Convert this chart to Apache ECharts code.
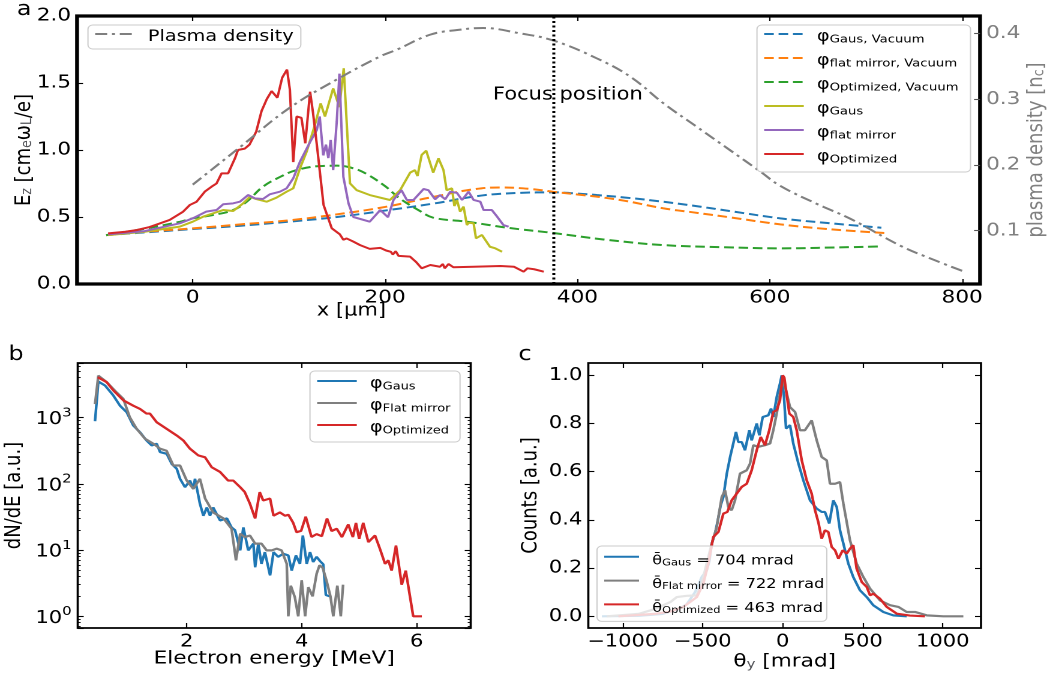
<!DOCTYPE html>
<html>
<head>
<meta charset="utf-8">
<script src="https://cdn.jsdelivr.net/npm/echarts@6.0.0/dist/echarts.min.js"></script>
<style>
  html, body { margin: 0; padding: 0; background: #fff; overflow: hidden; }
  /* the figure is laid out 875 px wide and widened to 1050 px */
  #chart { width: 875px; height: 677px; transform: scaleX(1.2); transform-origin: 0 0; }
</style>
</head>
<body>
<div id="chart"></div>
<script>
const FONT = 'DejaVu Sans';

// ---------- panel a: longitudinal field E_z along x, plasma density profile ----------
const aXTicks = [0, 200, 400, 600, 800];
const densityTicks = [0.1, 0.2, 0.3, 0.4];
const focusX = 375;
const focusLabelAt = [390, 1.41];

const gausVacuum = [[-90,0.365],[-50,0.385],[0,0.41],[50,0.435],[100,0.465],[150,0.50],[200,0.548],[250,0.60],[300,0.66],[340,0.68],[375,0.684],[400,0.675],[420,0.664],[450,0.645],[489,0.614],[520,0.585],[558,0.545],[611,0.49],[660,0.455],[716,0.42]];
const flatVacuum = [[-90,0.365],[-50,0.39],[0,0.415],[50,0.445],[100,0.475],[150,0.52],[200,0.575],[250,0.65],[300,0.714],[320,0.72],[350,0.71],[375,0.688],[400,0.668],[420,0.652],[450,0.62],[489,0.565],[520,0.535],[558,0.498],[611,0.445],[660,0.41],[720,0.38]];
const optVacuum = [[-90,0.365],[-48,0.415],[-13,0.465],[0,0.49],[21,0.515],[42,0.552],[56,0.614],[73,0.726],[91,0.80],[108,0.85],[132,0.88],[150,0.883],[167,0.863],[181,0.82],[200,0.73],[215,0.64],[235,0.55],[250,0.495],[285,0.465],[327,0.42],[372,0.383],[430,0.33],[490,0.29],[550,0.275],[611,0.266],[650,0.27],[715,0.28]];

const gausPlasma = [[-88,0.365],[-50,0.39],[-13.5,0.428],[0,0.465],[10.7,0.502],[21,0.527],[31.6,0.552],[42,0.545],[52.4,0.602],[59.4,0.651],[66,0.634],[76.8,0.614],[87,0.644],[97.6,0.689],[104.5,0.714],[111.5,0.863],[118.4,0.987],[127,1.187],[133,1.348],[137.5,1.25],[146,1.46],[152.4,1.32],[157,1.61],[163.5,0.751],[170.5,0.70],[184,0.664],[205,0.627],[215.6,0.70],[226,0.831],[231,0.85],[233.7,0.806],[238,0.963],[242.7,0.995],[250,0.831],[255.5,0.938],[260.7,0.85],[264,0.70],[269.5,0.714],[272,0.582],[274.7,0.627],[278,0.54],[281.6,0.577],[285,0.44],[287,0.457],[292,0.453],[294.5,0.341],[300.7,0.366],[309,0.278],[314.6,0.266],[321.6,0.241]];
const flatPlasma = [[-88,0.37],[-50,0.395],[-13.5,0.453],[0,0.49],[14,0.54],[24.7,0.552],[31.6,0.595],[42,0.602],[49,0.614],[57.6,0.664],[64.6,0.639],[73,0.634],[80,0.669],[90.6,0.689],[97.6,0.714],[104.5,0.789],[111.5,0.913],[122,1.06],[129,1.15],[132,1.25],[135.7,0.96],[138.5,1.04],[141,0.94],[143.4,1.075],[146,0.85],[149.7,1.21],[152.5,1.57],[156.6,0.80],[162,0.60],[167,0.50],[184,0.465],[195,0.552],[203,0.498],[208.7,0.627],[217,0.70],[222.6,0.627],[229.5,0.627],[240,0.709],[245,0.70],[252,0.632],[257,0.664],[262.5,0.632],[267.7,0.689],[274.7,0.68],[280,0.627],[286.8,0.689],[292,0.627],[299,0.614],[302.4,0.552],[311,0.552],[316,0.507],[323,0.44],[328.4,0.428]];
const optPlasma = [[-88,0.378],[-70,0.39],[-58,0.403],[-45,0.425],[-35,0.45],[-24,0.478],[-10,0.54],[-3,0.59],[4,0.614],[12.5,0.689],[19.5,0.726],[24.7,0.75],[30,0.826],[36.8,0.826],[44,0.94],[47,1.0],[54,1.01],[59,1.04],[66,1.137],[71.5,1.29],[77,1.38],[82,1.44],[88,1.39],[93,1.54],[98,1.6],[101,1.45],[104.5,0.91],[108,1.25],[113,1.24],[117,1.05],[122,1.435],[125,1.28],[129,1.04],[136,0.59],[144.5,0.416],[153,0.37],[156.6,0.33],[160,0.34],[167,0.316],[174,0.29],[184,0.262],[195,0.27],[201,0.25],[206,0.24],[208,0.22],[211,0.245],[214,0.21],[226,0.204],[232,0.166],[238,0.117],[247,0.142],[257,0.129],[260,0.149],[262,0.117],[266,0.149],[271,0.125],[292,0.129],[320,0.134],[334,0.129],[344,0.092],[348,0.117],[355,0.11],[365,0.092]];

const plasmaDensity = [[0,0.170],[50,0.228],[100,0.286],[150,0.33],[195,0.365],[212,0.375],[247,0.398],[275,0.405],[302,0.408],[340,0.40],[375,0.389],[420,0.362],[455,0.334],[490,0.293],[524,0.258],[559,0.222],[590,0.19],[611,0.168],[650,0.14],[684,0.118],[736,0.077],[770,0.056],[800,0.039]];

// ---------- panel b: electron energy spectra ----------
const bXTicks = [2, 4, 6];
const specGaus = [[0.405,883],[0.463,3500],[0.579,3050],[0.724,2150],[0.84,1510],[0.957,1200],[1.07,760],[1.188,600],[1.30,452],[1.39,380],[1.478,403],[1.536,302],[1.652,284],[1.739,200],[1.826,169],[1.884,119],[1.97,89],[2.057,112],[2.115,84],[2.144,119],[2.23,50],[2.29,33],[2.35,44],[2.405,33],[2.46,44],[2.58,28],[2.70,30],[2.78,22],[2.84,20],[2.93,9.9],[2.985,22],[3.07,9.9],[3.16,12.5],[3.19,5.5],[3.245,12.5],[3.30,6.2],[3.36,9.3],[3.45,4.15],[3.51,9.3],[3.59,7.9],[3.68,8.8],[3.767,8.3],[3.826,4.9],[3.90,8.3],[3.97,6.2],[4.02,16.6],[4.087,6.2],[4.145,9.3],[4.20,6.6],[4.26,7.9],[4.32,6.8],[4.375,6.1],[4.42,2.1],[4.49,2.0]];
const specFlat = [[0.405,1600],[0.463,4300],[0.61,3420],[0.78,2400],[0.897,1920],[1.01,1010],[1.13,676],[1.275,479],[1.42,403],[1.536,339],[1.65,316],[1.767,189],[1.884,189],[2.0,112],[2.115,84],[2.23,119],[2.32,60],[2.46,37],[2.64,30],[2.78,21],[2.857,7],[2.93,17.7],[3.01,15.7],[3.10,16.6],[3.19,12.5],[3.30,12.5],[3.39,9.9],[3.48,9.9],[3.565,10.5],[3.65,9.9],[3.74,6.2],[3.767,1],[3.81,2.9],[3.88,1.95],[3.94,1],[4.0,3.5],[4.06,1],[4.115,2.75],[4.19,2.0],[4.26,4.4],[4.31,5.9],[4.365,5.4],[4.43,3.5],[4.50,2.0],[4.55,1],[4.62,2.9],[4.68,1],[4.72,3.0]];
const specOpt = [[0.452,4070],[0.609,3420],[0.724,2570],[0.897,1820],[1.07,1510],[1.188,1350],[1.30,1150],[1.36,1150],[1.478,851],[1.652,676],[1.826,537],[1.94,452],[2.057,339],[2.20,269],[2.32,251],[2.435,178],[2.58,151],[2.72,112],[2.81,112],[2.93,89],[3.01,75],[3.10,50],[3.19,30],[3.27,75],[3.33,56],[3.45,60],[3.51,33],[3.62,37],[3.71,33],[3.77,34],[3.85,26],[3.91,18.6],[3.99,19.5],[4.07,32],[4.17,15.8],[4.26,17.4],[4.35,16.2],[4.44,30],[4.52,19.4],[4.61,21],[4.70,15.7],[4.81,24.4],[4.89,15.7],[4.944,25.7],[5.0,14.8],[5.07,25.7],[5.16,13.2],[5.2,12.5],[5.275,16.6],[5.36,10.5],[5.45,6.2],[5.506,7.0],[5.565,4.9],[5.64,11.7],[5.74,3.0],[5.81,4.9],[5.94,1],[6.09,1]];

// ---------- panel c: angular distributions ----------
const cXTicks = [-1000, -500, 0, 500, 1000];
const cYTicks = [0, 0.2, 0.4, 0.6, 0.8, 1.0];
const meanTheta = { gaus: 704, flat: 722, opt: 463 };
const angGaus = [[-1130,0],[-900,0.002],[-750,0.01],[-650,0.03],[-600,0.05],[-548,0.1],[-506,0.163],[-475,0.19],[-458,0.23],[-444,0.30],[-423,0.343],[-402,0.41],[-388,0.46],[-371,0.495],[-350,0.59],[-329,0.66],[-309,0.717],[-292,0.765],[-277.5,0.723],[-256,0.723],[-235.6,0.689],[-208.5,0.772],[-194,0.73],[-162.5,0.80],[-146,0.751],[-125,0.827],[-90,0.834],[-73,0.862],[-58.7,0.827],[-37.5,0.91],[-17,0.966],[-6,1.0],[8,0.91],[20.8,0.779],[45.6,0.793],[66,0.717],[98,0.634],[129,0.564],[170.6,0.481],[212.5,0.447],[243.5,0.433],[264,0.433],[291,0.385],[316,0.481],[337.5,0.454],[358,0.357],[379,0.302],[410,0.219],[441,0.163],[483,0.108],[525,0.08],[566,0.046],[629,0.018],[691,0.004],[775,0]];
const angFlat = [[-1100,0],[-900,0.01],[-800,0.03],[-700,0.06],[-662,0.08],[-600,0.085],[-537,0.087],[-506,0.136],[-475,0.219],[-444,0.30],[-412.5,0.37],[-381,0.495],[-360.6,0.523],[-340,0.454],[-319,0.44],[-298,0.481],[-267,0.592],[-225,0.606],[-204,0.634],[-183.7,0.71],[-152.5,0.703],[-110.6,0.71],[-79,0.717],[-58.7,0.772],[-37.5,0.841],[-17,0.924],[0,0.98],[20.6,0.938],[45.6,0.868],[77,0.848],[108,0.772],[139,0.772],[181,0.813],[212.5,0.73],[243.5,0.661],[275,0.647],[295.6,0.55],[327,0.55],[358,0.557],[379,0.468],[420.6,0.315],[462,0.219],[504,0.163],[546,0.115],[608,0.066],[671,0.046],[723,0.039],[775,0.018],[827,0.018],[900,0.004],[1004,0],[1129,0]];
const angOpt = [[-1027,0],[-800,0.01],[-700,0.02],[-621,0.039],[-537,0.08],[-496,0.136],[-465,0.219],[-434,0.329],[-402,0.35],[-371,0.426],[-346,0.433],[-319,0.481],[-287.5,0.509],[-256,0.537],[-225,0.55],[-194,0.606],[-162.5,0.689],[-137.5,0.744],[-110.6,0.71],[-84,0.772],[-58.7,0.848],[-37.5,0.855],[-17,0.896],[0,1.0],[10,0.99],[20.6,0.986],[41.5,0.841],[66,0.827],[87.5,0.772],[119,0.647],[150,0.564],[181,0.509],[202,0.44],[222.5,0.391],[243.5,0.322],[264,0.357],[285,0.35],[306,0.288],[327,0.274],[348,0.239],[375,0.274],[400,0.26],[421,0.281],[441,0.295],[462,0.198],[494,0.142],[525,0.122],[546,0.087],[566,0.094],[608,0.073],[650,0.039],[712.5,0.011],[795,0.003],[889,0]];

// ---------- colours ----------
const C = { blue: '#1f77b4', orange: '#ff7f0e', green: '#2ca02c', red: '#d62728', purple: '#9467bd', olive: '#bcbd22', gray: '#7f7f7f' };

// ---------- shared styles ----------
const sub = (size, lh) => ({ fontFamily: FONT, fontSize: size, lineHeight: lh || 14, verticalAlign: 'bottom' });
const main = (size, color, lh) => ({ fontFamily: FONT, fontSize: size, lineHeight: lh || 22, verticalAlign: 'bottom', color: color || '#000' });

function ticks(values, len) {
  const t = { show: true, inside: true, length: len || 5, lineStyle: { color: '#000', width: 1.1 } };
  if (values) t.customValues = values;
  return t;
}
function labels(values, fmt, size) {
  const l = { show: true, color: '#000', fontFamily: FONT, fontSize: size || 17.5, margin: 5 };
  if (values) l.customValues = values;
  if (fmt) l.formatter = fmt;
  return l;
}
// axes sit on the frame edges, never on the zero line of the other axis
const noLine = { show: false, onZero: false };
const noSplit = { show: false };

const legendLabels = {
  'Plasma density': '{m|Plasma density}',
  'Gaus, Vacuum': '{m|φ}{s|Gaus, Vacuum}',
  'flat mirror, Vacuum': '{m|φ}{s|flat mirror, Vacuum}',
  'Optimized, Vacuum': '{m|φ}{s|Optimized, Vacuum}',
  'Gaus': '{m|φ}{s|Gaus}',
  'flat mirror': '{m|φ}{s|flat mirror}',
  'Optimized': '{m|φ}{s|Optimized}',
  'Gaus spectrum': '{m|φ}{s|Gaus}',
  'Flat mirror spectrum': '{m|φ}{s|Flat mirror}',
  'Optimized spectrum': '{m|φ}{s|Optimized}',
  'Gaus angle': '{m|θ̄}{s|Gaus}{m| = ' + meanTheta.gaus + ' mrad}',
  'Flat mirror angle': '{m|θ̄}{s|Flat mirror}{m| = ' + meanTheta.flat + ' mrad}',
  'Optimized angle': '{m|θ̄}{s|Optimized}{m| = ' + meanTheta.opt + ' mrad}'
};
function legend(names, left, top, mainSize, subSize, extra) {
  return Object.assign({
    data: names, left: left, top: top, orient: 'vertical',
    itemWidth: 33, itemHeight: 12, itemGap: 8,
    padding: [4, 10, 7, 5],
    backgroundColor: 'rgba(255,255,255,0.8)', borderColor: '#cccccc', borderWidth: 1, borderRadius: 4,
    selectedMode: false,
    itemStyle: { opacity: 0 },
    formatter: (n) => legendLabels[n],
    textStyle: { color: '#000', fontFamily: FONT, fontSize: mainSize, padding: [0, 0, 0, 6],
      rich: { m: main(mainSize), s: sub(subSize) } }
  }, extra || {});
}

function line(name, data, color, xi, yi, extra) {
  return Object.assign({
    name: name, type: 'line', data: data, xAxisIndex: xi, yAxisIndex: yi,
    symbol: 'none', showSymbol: false, color: color, animation: false,
    lineStyle: { color: color, width: 2 }
  }, extra || {});
}
const dashed = (color) => ({ smooth: 0.4, lineStyle: { color: color, width: 2, type: [8, 4] } });

const logLabel = (v) => '{b|10}{p|' + Math.round(Math.log10(v)) + '}';
const minus = (v) => (v < 0 ? '\u2212' + Math.abs(v) : String(v));
const minorLog = { show: true, splitNumber: 9, length: 2.5, lineStyle: { color: '#000', width: 0.9 } };

// plot frames are placed exactly; labels may reach the page edges
const frame = (left, top, width, height, bw) => ({
  left: left, top: top, width: width, height: height, containLabel: false, outerBoundsMode: 'none',
  show: true, borderColor: '#000', borderWidth: bw, backgroundColor: 'transparent'
});
// axis titles stay at their gap from the frame
const axisName = (text, gap, style) => ({ name: text, nameLocation: 'middle', nameGap: gap, nameMoveOverlap: false, nameTextStyle: style });
const plainName = { fontFamily: FONT, fontSize: 18, color: '#000' };

const option = {
  animation: false,
  backgroundColor: '#fff',
  textStyle: { fontFamily: FONT },
  title: [
    { text: 'a', left: 14, top: 0, padding: 0, textStyle: { fontFamily: FONT, fontSize: 20, fontWeight: 'normal', color: '#000' } },
    { text: 'b', left: 7, top: 345, padding: 0, textStyle: { fontFamily: FONT, fontSize: 20, fontWeight: 'normal', color: '#000' } },
    { text: 'c', left: 432, top: 345, padding: 0, textStyle: { fontFamily: FONT, fontSize: 20, fontWeight: 'normal', color: '#000' } },
    { text: 'x [µm]', left: 264, top: 302, padding: 0, textStyle: { fontFamily: FONT, fontSize: 17.5, fontWeight: 'normal', color: '#000' } }
  ],
  grid: [
    frame(64.2, 16, 752.5, 268, 3.2),
    frame(64.75, 363, 327.5, 265, 1.8),
    frame(490.25, 363, 327.25, 265, 1.8)
  ],
  xAxis: [
    { gridIndex: 0, type: 'value', position: 'bottom', min: -120.3, max: 818.6, axisLine: noLine, splitLine: noSplit,
      axisTick: ticks(aXTicks, 5), axisLabel: labels(aXTicks, null, 18) },
    { gridIndex: 0, type: 'value', position: 'top', min: -120.3, max: 818.6, axisLine: noLine, splitLine: noSplit,
      axisTick: ticks(aXTicks, 5), axisLabel: { show: false } },
    Object.assign({ gridIndex: 1, type: 'value', position: 'bottom', min: 0.104, max: 6.94, axisLine: noLine, splitLine: noSplit,
      axisTick: ticks(bXTicks, 5), axisLabel: labels(bXTicks) },
      axisName('Electron energy [MeV]', 22, plainName)),
    { gridIndex: 1, type: 'value', position: 'top', min: 0.104, max: 6.94, axisLine: noLine, splitLine: noSplit,
      axisTick: ticks(bXTicks, 5), axisLabel: { show: false } },
    Object.assign({ gridIndex: 2, type: 'value', position: 'bottom', min: -1215, max: 1239.4, axisLine: noLine, splitLine: noSplit,
      axisTick: ticks(cXTicks, 5), axisLabel: labels(cXTicks, minus) },
      axisName('{t|θ}{s|y}{t| [mrad]}', 21, { rich: { t: main(18), s: sub(12.5) } })),
    { gridIndex: 2, type: 'value', position: 'top', min: -1215, max: 1239.4, axisLine: noLine, splitLine: noSplit,
      axisTick: ticks(cXTicks, 5), axisLabel: { show: false } }
  ],
  yAxis: [
    Object.assign({ gridIndex: 0, type: 'value', position: 'left', min: 0, max: 2, interval: 0.5, axisLine: noLine, splitLine: noSplit,
      axisTick: ticks(null, 5), axisLabel: labels(null, (v) => v.toFixed(1), 18) },
      axisName('{t|E}{s|z}{t| [cm}{s|e}{t|ω}{s|L}{t|/e]}', 35, { rich: { t: main(18), s: sub(12.5) } })),
    Object.assign({ gridIndex: 0, type: 'value', position: 'right', min: 0.019, max: 0.4263, axisLine: noLine, splitLine: noSplit,
      axisTick: Object.assign(ticks(densityTicks, 5), { lineStyle: { color: '#555', width: 1.1 } }),
      axisLabel: Object.assign(labels(densityTicks, (v) => v.toFixed(1), 18), { color: '#808080' }) },
      axisName('{t|plasma density [n}{s|c}{t|]}', 38, { rich: { t: main(18, '#808080', 18), s: Object.assign(sub(12.5, 12), { color: '#808080' }) } })),
    Object.assign({ gridIndex: 1, type: 'log', logBase: 10, position: 'left', min: 0.666, max: 6668, axisLine: noLine, splitLine: noSplit,
      axisTick: ticks(null, 5), minorTick: minorLog, minorSplitLine: { show: false },
      axisLabel: Object.assign(labels(null, logLabel), { showMinLabel: false, showMaxLabel: false,
        rich: { b: main(17.5), p: { fontFamily: FONT, fontSize: 12.5, lineHeight: 12, verticalAlign: 'top' } } }) },
      axisName('dN/dE [a.u.]', 44, plainName)),
    { gridIndex: 1, type: 'log', logBase: 10, position: 'right', min: 0.666, max: 6668, axisLine: noLine, splitLine: noSplit,
      axisTick: ticks(null, 5), minorTick: minorLog, minorSplitLine: { show: false }, axisLabel: { show: false } },
    Object.assign({ gridIndex: 2, type: 'value', position: 'left', min: -0.0485, max: 1.051, axisLine: noLine, splitLine: noSplit,
      axisTick: ticks(cYTicks, 5), axisLabel: labels(cYTicks, (v) => v.toFixed(1)) },
      axisName('Counts [a.u.]', 39, plainName)),
    { gridIndex: 2, type: 'value', position: 'right', min: -0.0485, max: 1.051, axisLine: noLine, splitLine: noSplit,
      axisTick: ticks(cYTicks, 5), axisLabel: { show: false } }
  ],
  legend: [
    legend(['Plasma density'], 73.3, 25, 16, 11, { padding: [4, 6, 4, 5] }),
    legend(['Gaus, Vacuum', 'flat mirror, Vacuum', 'Optimized, Vacuum', 'Gaus', 'flat mirror', 'Optimized'], 630.8, 25, 16, 11),
    legend(['Gaus spectrum', 'Flat mirror spectrum', 'Optimized spectrum'], 258.3, 371, 16, 10.8, { padding: [5, 8, 6, 5], itemGap: 6 }),
    legend(['Gaus angle', 'Flat mirror angle', 'Optimized angle'], 497.5, 546, 13.5, 9.5, { itemWidth: 29, itemGap: 8, padding: [6, 2, 6, 5] })
  ],
  series: [
    line('Gaus, Vacuum', gausVacuum, C.blue, 0, 0, Object.assign(dashed(C.blue), {
      markLine: { silent: true, symbol: ['none', 'none'], label: { show: false },
        lineStyle: { color: '#000', width: 2.5, type: [2, 2.5] }, data: [{ xAxis: focusX }] },
      markPoint: { silent: true, symbol: 'circle', symbolSize: 1, itemStyle: { color: 'rgba(0,0,0,0)' },
        label: { show: true, position: 'inside', formatter: 'Focus position', color: '#000', fontFamily: FONT, fontSize: 17.5 },
        data: [{ coord: focusLabelAt }] }
    })),
    line('flat mirror, Vacuum', flatVacuum, C.orange, 0, 0, dashed(C.orange)),
    line('Optimized, Vacuum', optVacuum, C.green, 0, 0, dashed(C.green)),
    line('Gaus', gausPlasma, C.olive, 0, 0),
    line('flat mirror', flatPlasma, C.purple, 0, 0),
    line('Optimized', optPlasma, C.red, 0, 0),
    line('Plasma density', plasmaDensity, C.gray, 0, 1, { smooth: 0.4, lineStyle: { color: C.gray, width: 2, type: [10, 4, 2.5, 4] } }),

    line('Gaus spectrum', specGaus, C.blue, 2, 2, { lineStyle: { color: C.blue, width: 2.2 } }),
    line('Flat mirror spectrum', specFlat, C.gray, 2, 2, { lineStyle: { color: C.gray, width: 2.2 } }),
    line('Optimized spectrum', specOpt, C.red, 2, 2, { lineStyle: { color: C.red, width: 2.2 } }),

    line('Gaus angle', angGaus, C.blue, 4, 4, { lineStyle: { color: C.blue, width: 2.2 } }),
    line('Flat mirror angle', angFlat, C.gray, 4, 4, { lineStyle: { color: C.gray, width: 2.2 } }),
    line('Optimized angle', angOpt, C.red, 4, 4, { lineStyle: { color: C.red, width: 2.2 } })
  ]
};

const chart = echarts.init(document.getElementById('chart'), null, { renderer: 'canvas', devicePixelRatio: 2 });
chart.setOption(option);
</script>
</body>
</html>
